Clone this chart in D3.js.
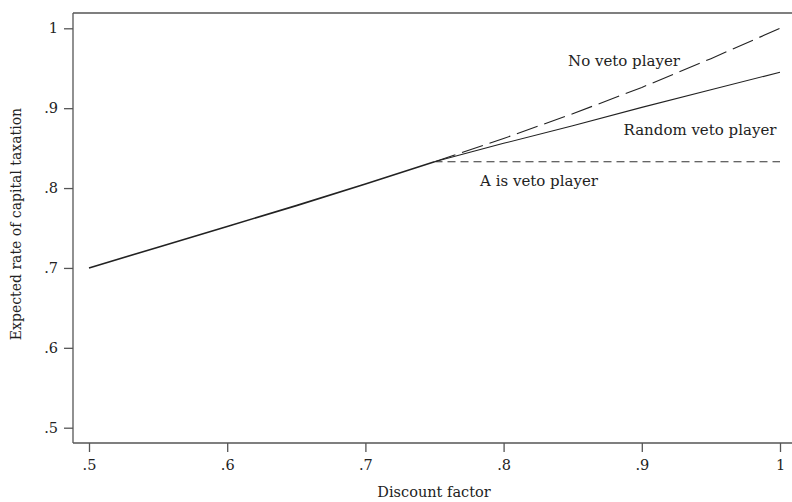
<!DOCTYPE html>
<html>
<head>
<meta charset="utf-8">
<script src="https://cdn.jsdelivr.net/npm/d3@7"></script>
<style>
  body { margin: 0; background: #fff; }
  svg text { font-family: "DejaVu Serif", serif; fill: #222; }
</style>
</head>
<body>
<div id="chart"></div>
<script>
const W = 792, H = 502;

// data
const commonX = [0.5, 0.55, 0.6, 0.65, 0.7, 0.75];
const commonY = [0.700, 0.726, 0.752, 0.778, 0.805, 0.833];
const branchX = [0.75, 0.8, 0.85, 0.9, 0.95, 1.0];
const noVetoY = [0.833, 0.862, 0.893, 0.926, 0.962, 1.0];
const randomVetoY = [0.833, 0.856, 0.878, 0.901, 0.923, 0.945];
const aVetoY = [0.833, 0.833, 0.833, 0.833, 0.833, 0.833];
const xTicks = [0.5, 0.6, 0.7, 0.8, 0.9, 1];
const yTicks = [0.5, 0.6, 0.7, 0.8, 0.9, 1];
const seriesLabels = ["No veto player", "Random veto player", "A is veto player"];

const fmt = v => v === 1 ? "1" : d3.format(".1f")(v).replace(/^0/, "");
const FONT = '"DejaVu Serif", serif';

const x = d3.scaleLinear().domain([0.5, 1]).range([89, 780]);
const y = d3.scaleLinear().domain([0.5, 1]).range([427.7, 28.3]);

const svg = d3.select("#chart").append("svg")
  .attr("width", W).attr("height", H);

const frameL = 73, frameT = 13, frameB = 443, frameR = W;

// frame
svg.append("line").attr("x1", frameL).attr("x2", frameR).attr("y1", frameT).attr("y2", frameT)
  .attr("stroke", "#555").attr("stroke-width", 1.3);

const yAxis = svg.append("g")
  .attr("transform", `translate(${frameL},0)`)
  .call(d3.axisLeft(y).tickValues(yTicks).tickFormat(fmt).tickSize(9).tickPadding(6));
yAxis.select(".domain").attr("d", `M0,${frameT}V${frameB}`);

const xAxis = svg.append("g")
  .attr("transform", `translate(0,${frameB})`)
  .call(d3.axisBottom(x).tickValues(xTicks).tickFormat(fmt).tickSize(9).tickPadding(8));
xAxis.select(".domain").attr("d", `M${frameL},0H${frameR}`);

svg.selectAll(".domain, .tick line").attr("stroke", "#555").attr("stroke-width", 1.3);
svg.selectAll(".tick text").attr("font-size", 14.5).attr("fill", "#222")
  .style("font-family", FONT);

// axis titles
svg.append("text")
  .attr("transform", `translate(21,224) rotate(-90)`)
  .attr("text-anchor", "middle").attr("font-size", 14)
  .text("Expected rate of capital taxation");
svg.append("text")
  .attr("x", 434).attr("y", 497)
  .attr("text-anchor", "middle").attr("font-size", 14.5)
  .text("Discount factor");

// lines
const line = d3.line().x(d => x(d[0])).y(d => y(d[1]));
const zipPts = (xs, ys) => xs.map((v, i) => [v, ys[i]]);

svg.append("path").datum(zipPts(branchX, aVetoY)).attr("d", line)
  .attr("fill", "none").attr("stroke", "#333").attr("stroke-width", 1.1)
  .attr("stroke-dasharray", "8,5");
svg.append("path").datum(zipPts(branchX, noVetoY)).attr("d", line)
  .attr("fill", "none").attr("stroke", "#222").attr("stroke-width", 1.1)
  .attr("stroke-dasharray", "22,7");
svg.append("path").datum(zipPts(branchX, randomVetoY)).attr("d", line)
  .attr("fill", "none").attr("stroke", "#222").attr("stroke-width", 1.1);
svg.append("path").datum(zipPts(commonX, commonY)).attr("d", line)
  .attr("fill", "none").attr("stroke", "#222").attr("stroke-width", 1.6);

// series labels
const labelPos = [[624, 66], [700, 135], [539, 186]];
svg.selectAll(".lbl").data(seriesLabels).enter().append("text")
  .attr("class", "lbl")
  .attr("x", (d, i) => labelPos[i][0]).attr("y", (d, i) => labelPos[i][1])
  .attr("text-anchor", "middle").attr("font-size", 15)
  .text(d => d);
</script>
</body>
</html>
